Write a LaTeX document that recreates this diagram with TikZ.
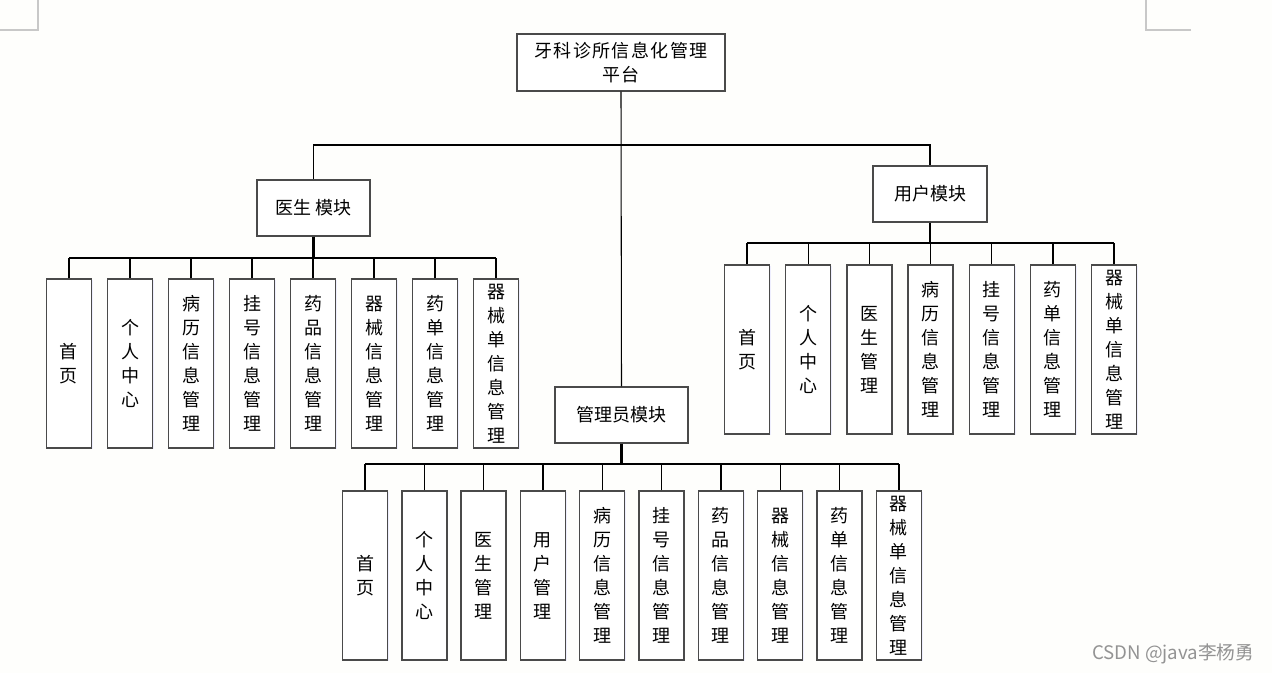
\documentclass[tikz,border=0pt]{standalone}
\usepackage{fontspec}
\newfontfamily\cjk{Noto Sans CJK SC}
\newfontfamily\cjkwide[LetterSpace=8]{Noto Sans CJK SC}
\usetikzlibrary{shadows}
\definecolor{bg}{HTML}{FEFEFC}
\definecolor{boxline}{HTML}{4A4A4A}
\definecolor{cornergray}{HTML}{C8C8C8}
\begin{document}
\begin{tikzpicture}[x=0.75pt,y=-0.75pt,
  box/.style={draw=boxline, line width=1pt, fill=white, inner sep=0pt,
    drop shadow={fill=blue!8, opacity=0.8, shadow xshift=1pt, shadow yshift=-1pt}},
  modbox/.style={box, font=\cjk\fontsize{13.5}{18}\selectfont},
  leaf/.style={box, minimum width=33.75pt, minimum height=126.75pt,
    align=center, font=\cjk\fontsize{13.5}{18}\selectfont},
  topline/.style={line width=0.8pt, black},
  barline/.style={line width=1.4pt, black},
  trunk/.style={line width=2.2pt, black},
  drop/.style={line width=1pt, black}]
\fill[bg] (0,0) rectangle (1272,673);
\useasboundingbox (0,0) rectangle (1272,673);
% corner marks
\draw[cornergray, line width=0.8pt] (0,30) -- (38,30) -- (38,0);
\draw[cornergray, line width=0.8pt] (1191,30) -- (1146,30) -- (1146,0);

% root
\node[modbox, minimum width=156pt, minimum height=42.75pt, align=center,
  font=\cjkwide\fontsize{13.5}{18}\selectfont] (root) at (621,62.5) {牙科诊所信息化管理\\平台};
% modules
\node[modbox, minimum width=84.75pt, minimum height=42pt] (doc) at (313.5,208) {医生\hspace{3pt}模块};
\node[modbox, minimum width=85.5pt, minimum height=42pt] (usr) at (930,194) {用户模块};
\node[modbox, minimum width=99.75pt, minimum height=42pt] (adm) at (621.5,415) {管理员模块};

% top connectors
\coordinate (tbar) at (621,145);
\draw[topline] (root.south) -- (adm.north);
\draw[topline] (doc.north) -- (doc.north |- tbar) -- (usr.north |- tbar) -- (usr.north);

% doctor leaves
\foreach \t [count=\i] in {首\\页, 个\\人\\中\\心, 病\\历\\信\\息\\管\\理, 挂\\号\\信\\息\\管\\理,
  药\\品\\信\\息\\管\\理, 器\\械\\信\\息\\管\\理, 药\\单\\信\\息\\管\\理, 器\\械\\单\\信\\息\\管\\理}
  \node[leaf] (d\i) at ({69+61*(\i-1)},363.5) {\t};
\coordinate (dbar) at (313.5,258);
\draw[trunk] (doc.south) -- (dbar);
\draw[barline] (d1.north |- dbar) -- (d8.north |- dbar);
\foreach \i in {1,...,8} \draw[drop] (d\i.north) -- (d\i.north |- dbar);

% user leaves
\foreach \t [count=\i] in {首\\页, 个\\人\\中\\心, 医\\生\\管\\理, 病\\历\\信\\息\\管\\理,
  挂\\号\\信\\息\\管\\理, 药\\单\\信\\息\\管\\理, 器\\械\\单\\信\\息\\管\\理}
  \node[leaf] (u\i) at ({747+61.17*(\i-1)},349.5) {\t};
\coordinate (ubar) at (930,243);
\draw[trunk] (usr.south) -- (ubar);
\draw[barline] (u1.north |- ubar) -- (u7.north |- ubar);
\foreach \i in {1,...,7} \draw[drop] (u\i.north) -- (u\i.north |- ubar);

% admin leaves
\foreach \t [count=\i] in {首\\页, 个\\人\\中\\心, 医\\生\\管\\理, 用\\户\\管\\理,
  病\\历\\信\\息\\管\\理, 挂\\号\\信\\息\\管\\理, 药\\品\\信\\息\\管\\理,
  器\\械\\信\\息\\管\\理, 药\\单\\信\\息\\管\\理, 器\\械\\单\\信\\息\\管\\理}
  \node[leaf] (a\i) at ({365+59.33*(\i-1)},575.5) {\t};
\coordinate (abar) at (621.5,464);
\draw[trunk] (adm.south) -- (abar);
\draw[barline] (a1.north |- abar) -- (a10.north |- abar);
\foreach \i in {1,...,10} \draw[drop] (a\i.north) -- (a\i.north |- abar);

% watermark
\node[font=\cjk\fontsize{14}{16}\selectfont, text=gray!85, anchor=east] (wm) at (1259,654) {CSDN @java李杨勇};
\end{tikzpicture}
\end{document}
